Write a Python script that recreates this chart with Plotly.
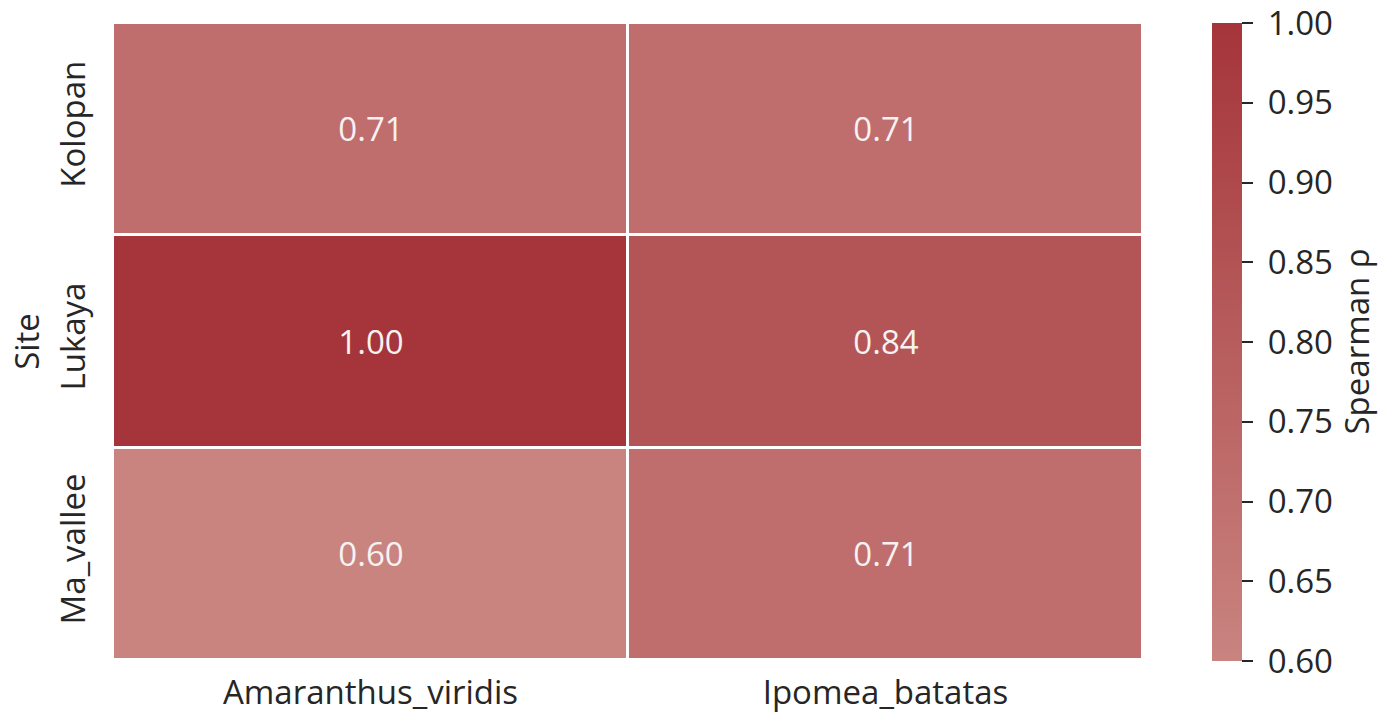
import plotly.graph_objects as go

# Spearman correlation per site and species
sites = ["Kolopan", "Lukaya", "Ma_vallee"]
species = ["Amaranthus_viridis", "Ipomea_batatas"]
rho_amaranthus = [0.71, 1.00, 0.60]
rho_ipomea = [0.71, 0.84, 0.71]
cbar_ticks = [0.60, 0.65, 0.70, 0.75, 0.80, 0.85, 0.90, 0.95, 1.00]

z = [[a, b] for a, b in zip(rho_amaranthus, rho_ipomea)]
labels = [[f"{v:.2f}" for v in row] for row in z]
cbar_text = ["\u00a0" + f"{v:.2f}" for v in cbar_ticks]

FONT = "Open Sans"
FS = 33
INK = "#262626"
W, H = 1379, 715
ML, MR, MT, MB = 113, 236, 23, 55
plot_w = W - ML - MR

colorscale = [[0.0, "#c98480"], [1.0, "#a5353a"]]

fig = go.Figure(
    go.Heatmap(
        z=z,
        x=species,
        y=sites,
        zmin=0.60,
        zmax=1.00,
        colorscale=colorscale,
        xgap=3,
        ygap=3,
        text=labels,
        texttemplate="%{text}",
        textfont=dict(family=FONT, size=FS, color="#f7f2f2"),
        colorbar=dict(
            thickness=30,
            thicknessmode="pixels",
            len=638,
            lenmode="pixels",
            x=(1212 - ML) / plot_w,
            xanchor="left",
            xpad=0,
            y=1.0,
            yanchor="top",
            ypad=0,
            outlinewidth=0,
            ticks="outside",
            ticklen=11,
            tickwidth=2,
            tickcolor=INK,
            tickvals=cbar_ticks,
            ticktext=cbar_text,
            ticklabeloverflow="allow",
            tickfont=dict(family=FONT, size=FS, color=INK),
        ),
    )
)

# colorbar caption
fig.add_annotation(
    text="Spearman ρ",
    xref="paper", yref="paper",
    x=(1356 - ML) / plot_w, y=0.5,
    xanchor="center", yanchor="middle",
    textangle=-90,
    showarrow=False,
    font=dict(family=FONT, size=FS, color=INK),
)

fig.update_layout(
    width=W,
    height=H,
    margin=dict(l=ML, r=MR, t=MT, b=MB, pad=0, autoexpand=False),
    paper_bgcolor="white",
    plot_bgcolor="white",
    font=dict(family=FONT, size=FS, color=INK),
    xaxis=dict(
        automargin=False,
        showgrid=False,
        zeroline=False,
        showline=False,
        ticks="outside",
        ticklen=3,
        tickcolor="rgba(0,0,0,0)",
        tickfont=dict(family=FONT, size=FS, color=INK),
    ),
    yaxis=dict(
        automargin=False,
        autorange="reversed",
        showgrid=False,
        zeroline=False,
        showline=False,
        ticks="outside",
        ticklen=14,
        tickcolor="rgba(0,0,0,0)",
        tickangle=-90,
        tickfont=dict(family=FONT, size=FS, color=INK),
        title=dict(text="Site", font=dict(family=FONT, size=FS, color=INK), standoff=0),
    ),
)

fig.write_html("out.html")
